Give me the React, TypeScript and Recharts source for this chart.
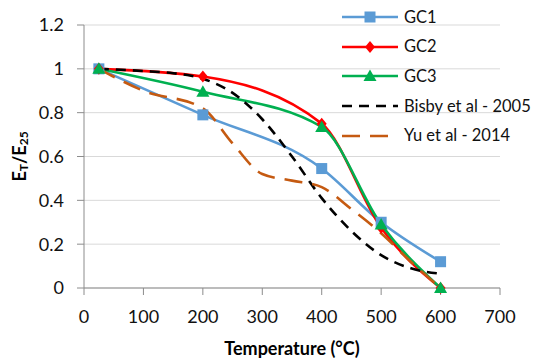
import React from "react";
import { LineChart, Line, XAxis, YAxis, CartesianGrid, Label } from "recharts";

const GC_T = [25, 200, 400, 500, 600];
const GC1_V = [1, 0.79, 0.545, 0.3, 0.12];
const GC2_V = [1, 0.965, 0.75, 0.275, 0];
const GC3_V = [1, 0.895, 0.735, 0.29, 0];
const BISBY_T = [25, 100, 150, 200, 250, 300, 350, 400, 450, 500, 550, 600];
const BISBY_V = [1, 0.99, 0.98, 0.955, 0.89, 0.77, 0.6, 0.41, 0.26, 0.15, 0.09, 0.065];
const YU_T = [25, 100, 200, 250, 300, 350, 400, 450, 500, 550, 600];
const YU_V = [1, 0.9, 0.82, 0.66, 0.52, 0.49, 0.46, 0.36, 0.25, 0.12, 0];
const X_TICKS = [0, 100, 200, 300, 400, 500, 600, 700];
const Y_TICKS = [0, 0.2, 0.4, 0.6, 0.8, 1, 1.2];

const zip = (ts: number[], vs: number[]) => ts.map((t, i) => ({ t, v: vs[i] }));
const gc1 = zip(GC_T, GC1_V);
const gc2 = zip(GC_T, GC2_V);
const gc3 = zip(GC_T, GC3_V);
const bisby = zip(BISBY_T, BISBY_V);
const yu = zip(YU_T, YU_V);

const FONT = "Lato, 'Open Sans', sans-serif";
const BLUE = "#5B9BD5";
const RED = "#FF0000";
const GREEN = "#00B050";
const ORANGE = "#C55A11";

const Square = (p: any) => {
  const { cx, cy } = p;
  if (cx == null || cy == null) return null;
  return <rect key={`s${cx}`} x={cx - 5.5} y={cy - 5.5} width={11} height={11} fill={BLUE} />;
};
const Diamond = (p: any) => {
  const { cx, cy } = p;
  if (cx == null || cy == null) return null;
  return <path key={`d${cx}`} d={`M${cx},${cy - 6} L${cx + 5},${cy} L${cx},${cy + 6} L${cx - 5},${cy} Z`} fill={RED} />;
};
const Triangle = (p: any) => {
  const { cx, cy } = p;
  if (cx == null || cy == null) return null;
  return <path key={`t${cx}`} d={`M${cx},${cy - 6.5} L${cx + 6.5},${cy + 5} L${cx - 6.5},${cy + 5} Z`} fill={GREEN} />;
};

const LEGEND_ITEMS = [
  { name: "GC1", color: BLUE, dash: undefined as string | undefined, marker: "square" },
  { name: "GC2", color: RED, dash: undefined, marker: "diamond" },
  { name: "GC3", color: GREEN, dash: undefined, marker: "triangle" },
  { name: "Bisby et al - 2005", color: "#000", dash: "10 7", marker: "" },
  { name: "Yu et al - 2014", color: ORANGE, dash: "18 10", marker: "" },
];

const LegendBox = () => (
  <div style={{ position: "absolute", left: 342, top: 2, fontFamily: FONT, fontSize: 16.5, color: "#111", lineHeight: 1 }}>
    {LEGEND_ITEMS.map((it) => (
      <div key={it.name} style={{ display: "flex", alignItems: "center", height: 29.7 }}>
        <svg width={56} height={16} style={{ marginRight: 6 }}>
          <line x1={0} y1={8} x2={56} y2={8} stroke={it.color} strokeWidth={2.6} strokeDasharray={it.dash} />
          {it.marker === "square" && <rect x={22.5} y={2.5} width={11} height={11} fill={it.color} />}
          {it.marker === "diamond" && <path d="M28,2 L33,8 L28,14 L23,8 Z" fill={it.color} />}
          {it.marker === "triangle" && <path d="M28,1.5 L34.5,13 L21.5,13 Z" fill={it.color} />}
        </svg>
        <span style={{ whiteSpace: "nowrap" }}>{it.name}</span>
      </div>
    ))}
  </div>
);

const YLabel = (props: any) => {
  const vb = props.viewBox || { x: 0, y: 0, width: 0, height: 0 };
  const x = vb.x + 19;
  const y = vb.y + vb.height / 2;
  return (
    <text
      x={x}
      y={y}
      transform={`rotate(-90, ${x}, ${y})`}
      textAnchor="middle"
      dominantBaseline="central"
      fontFamily={FONT}
      fontWeight="bold"
      fontSize={18}
      fill="#000"
    >
      <tspan>E</tspan>
      <tspan fontSize={12} dy={4}>T</tspan>
      <tspan dy={-4}>/E</tspan>
      <tspan fontSize={12} dy={4}>25</tspan>
    </text>
  );
};

export default function App() {
  return (
    <div style={{ position: "absolute", left: 0, top: 0, width: 540, height: 363, background: "#fff" }}>
      <LineChart width={540} height={363} margin={{ top: 25, right: 40, bottom: 44, left: 0 }}>
        <CartesianGrid vertical={false} stroke="#D9D9D9" strokeWidth={1} />
        <XAxis
          type="number"
          dataKey="t"
          domain={[0, 700]}
          ticks={X_TICKS}
          allowDuplicatedCategory={false}
          stroke="#8C8C8C"
          tickSize={7}
          tickMargin={15}
          height={31}
          tick={{ fontFamily: FONT, fontSize: 18, fill: "#111" }}
        >
          <Label
            value="Temperature (°C)"
            position="insideBottom"
            offset={-36}
            style={{ fontFamily: FONT, fontWeight: "bold", fontSize: 18, fill: "#000" }}
          />
        </XAxis>
        <YAxis
          type="number"
          dataKey="v"
          domain={[0, 1.2]}
          ticks={Y_TICKS}
          width={84}
          stroke="#8C8C8C"
          tickSize={7}
          tickMargin={13}
          tick={{ fontFamily: FONT, fontSize: 18, fill: "#111" }}
        >
          <Label content={<YLabel />} />
        </YAxis>
        <Line data={gc1} dataKey="v" type="monotone" stroke={BLUE} strokeWidth={2.6} dot={<Square />} activeDot={false} isAnimationActive={false} />
        <Line data={gc2} dataKey="v" type="monotone" stroke={RED} strokeWidth={2.6} dot={<Diamond />} activeDot={false} isAnimationActive={false} />
        <Line data={gc3} dataKey="v" type="monotone" stroke={GREEN} strokeWidth={2.6} dot={<Triangle />} activeDot={false} isAnimationActive={false} />
        <Line data={bisby} dataKey="v" type="monotone" stroke="#000" strokeWidth={2.6} strokeDasharray="10 7" dot={false} activeDot={false} isAnimationActive={false} />
        <Line data={yu} dataKey="v" type="monotone" stroke={ORANGE} strokeWidth={2.6} strokeDasharray="18 10" dot={false} activeDot={false} isAnimationActive={false} />
      </LineChart>
      <LegendBox />
    </div>
  );
}
